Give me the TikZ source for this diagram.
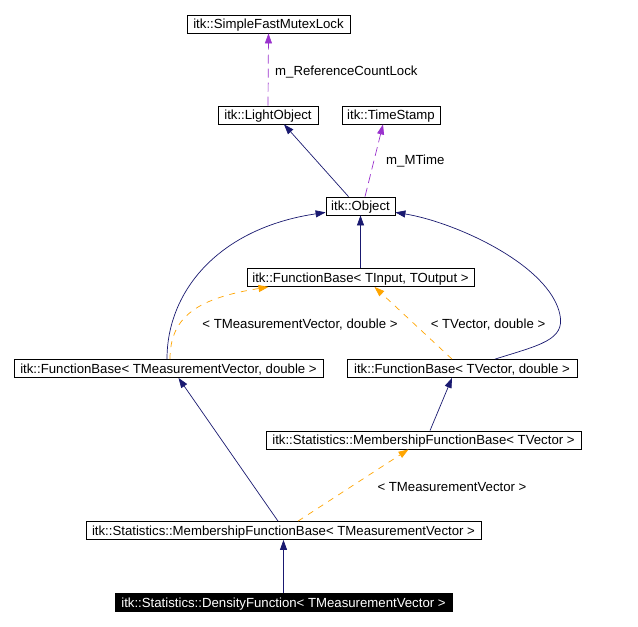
\documentclass[tikz,border=0pt]{standalone}
\usepackage{fontspec}
\setmainfont{Liberation Sans}
\usetikzlibrary{arrows.meta}
\definecolor{navy}{RGB}{25,25,112}
\definecolor{orng}{RGB}{255,165,0}
\definecolor{purp}{RGB}{154,50,205}
\begin{document}
\begin{tikzpicture}[x=1pt,y=-1pt,
  cls/.style={draw=black,line width=0.8pt,fill=white,inner sep=0pt,minimum height=18pt,text height=9.4pt,text depth=0pt,font=\fontsize{13.2}{15}\selectfont,text=black},
  inh/.style={navy,line width=0.7pt,-{Triangle[length=10pt,width=7pt]}},
  tmpl/.style={orng,line width=0.7pt,dash pattern=on 6pt off 6pt,-{Triangle[length=10pt,width=7pt]}},
  use/.style={purp,line width=0.7pt,dash pattern=on 9pt off 5pt,-{Triangle[length=10pt,width=7pt]}},
  lbl/.style={font=\fontsize{13.2}{15}\selectfont,inner sep=0pt,text height=9.4pt,text depth=0pt,text=black}]
\useasboundingbox[fill=white] (0,0) rectangle (638,627);
\node[cls,minimum width=163pt] (sfml) at (268.5,24) {itk::SimpleFastMutexLock};
\node[cls,minimum width=100pt] (lo) at (268,115) {itk::LightObject};
\node[cls,minimum width=98pt] (ts) at (391,115) {itk::TimeStamp};
\node[cls,minimum width=69pt] (obj) at (360.5,206) {itk::Object};
\node[cls,minimum width=227pt] (fbio) at (360.5,277.5) {itk::FunctionBase< TInput, TOutput >};
\node[cls,minimum width=309pt] (fbmv) at (168.5,368.5) {itk::FunctionBase< TMeasurementVector, double >};
\node[cls,minimum width=230pt] (fbv) at (462,368.5) {itk::FunctionBase< TVector, double >};
\node[cls,minimum width=315pt] (mfbv) at (423.5,440) {itk::Statistics::MembershipFunctionBase< TVector >};
\node[cls,minimum width=395pt] (mfbmv) at (283.5,530.5) {itk::Statistics::MembershipFunctionBase< TMeasurementVector >};
\node[cls,minimum width=337pt,fill=black,text=white] (df) at (283.5,602.5) {itk::Statistics::DensityFunction< TMeasurementVector >};

% uses
\draw[use] (lo.north) -- (sfml.south);
\node[lbl,anchor=west] (l1) at (275,71) {m\_ReferenceCountLock};
\draw[use] ([xshift=4.5pt]obj.north) -- ([xshift=-8pt]ts.south);
\node[lbl,anchor=west] (l2) at (386,160) {m\_MTime};

% inheritance
\draw[inh] ([xshift=-12pt]obj.north) -- ([xshift=16pt]lo.south);
\draw[inh] (fbio.north) -- (obj.south);
\draw[inh] ([xshift=-1.5pt]fbmv.north) .. controls (167,290) and (220,228) .. ([yshift=3pt]obj.south west);
\draw[inh] ([xshift=33pt]fbv.north) .. controls (540,345) and (565,340) .. (560,315) .. controls (550,265) and (455,222) .. ([yshift=3pt]obj.south east);
\draw[inh] ([xshift=6.5pt]mfbv.north) -- ([xshift=-10pt]fbv.south);
\draw[inh] ([xshift=-5.5pt]mfbmv.north) -- ([xshift=10pt]fbmv.south);
\draw[inh] (df.north) -- (mfbmv.south);

% template instantiations
\draw[tmpl] ([xshift=1.5pt]fbmv.north) .. controls (170,315) and (200,298) .. ([xshift=-92pt]fbio.south);
\node[lbl] (l3) at (300,324) {< TMeasurementVector, double >};
\draw[tmpl] ([xshift=-10pt]fbv.north) -- ([xshift=14pt]fbio.south);
\node[lbl] (l4) at (488,324) {< TVector, double >};
\draw[tmpl] ([xshift=14.5pt]mfbmv.north) -- ([xshift=-15pt]mfbv.south);
\node[lbl] (l5) at (452,487) {< TMeasurementVector >};
\end{tikzpicture}
\end{document}
